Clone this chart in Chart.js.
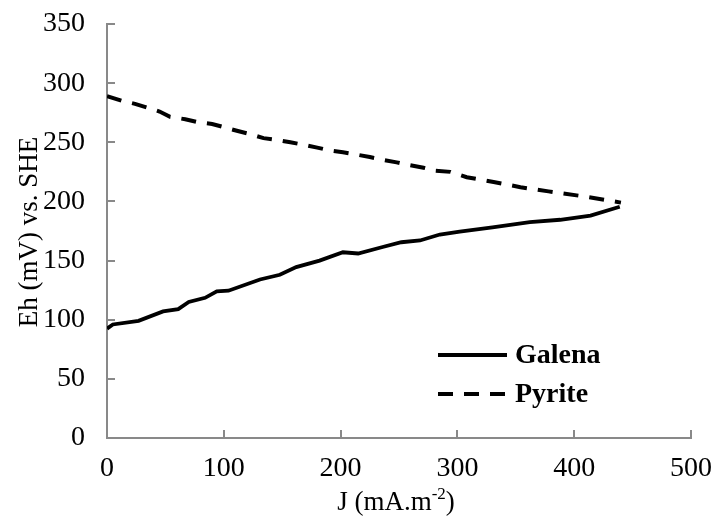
<!DOCTYPE html>
<html>
<head>
<meta charset="utf-8">
<script src="https://cdn.jsdelivr.net/npm/chart.js@4.4.1/dist/chart.umd.min.js"></script>
<style>
  html, body { margin: 0; padding: 0; background: #fff; }
  #wrap { width: 713px; height: 517px; }
</style>
</head>
<body>
<div id="wrap"><canvas id="chart" width="713" height="517"></canvas></div>
<script>
// values
const galenaJ  = [0, 5, 27, 48, 61, 70, 84, 94, 104, 131, 148, 162, 182, 202, 215, 236, 252, 268, 285, 302, 330, 362, 388, 414, 439];
const galenaEh = [92.5, 96, 99, 107, 109, 115, 118.5, 124, 124.5, 134, 138, 144.5, 150, 157, 156, 161.5, 165.5, 167, 172, 174.5, 178, 182.5, 184.5, 188, 195.5];
const pyriteJ  = [0, 13, 24, 34, 45, 54, 67, 78, 90, 101, 112, 124, 134, 145, 157, 168, 180, 191, 202, 214, 225, 237, 248, 257, 271, 281, 294, 308, 331, 354, 378, 410, 440];
const pyriteEh = [289, 285, 282.5, 279.5, 276, 271.5, 269.5, 267, 265.5, 262.5, 259.5, 256.5, 253.5, 252, 250, 248, 245.5, 243, 241.5, 239.5, 237.5, 235, 233, 231, 228.5, 226, 225, 220.5, 216.5, 212, 208.5, 204, 199];
const seriesNames = ["Galena", "Pyrite"];
const xTicks = [0, 100, 200, 300, 400, 500];
const yTicks = [0, 50, 100, 150, 200, 250, 300, 350];

const axisColor = "#898989";
const serif = "'Liberation Serif', 'Times New Roman', serif";

function toPoints(xs, ys) {
  return xs.map((x, i) => ({ x: x, y: ys[i] }));
}

// inward tick marks like the Excel original
const innerTicks = {
  id: "innerTicks",
  afterDatasetsDraw(chart) {
    const c = chart.ctx;
    const xs = chart.scales.x, ys = chart.scales.y;
    c.save();
    c.strokeStyle = axisColor;
    c.lineWidth = 2;
    xTicks.forEach(v => {
      const px = Math.round(xs.getPixelForValue(v));
      c.beginPath();
      c.moveTo(px, ys.bottom);
      c.lineTo(px, ys.bottom - 8);
      c.stroke();
    });
    yTicks.forEach(v => {
      const py = Math.round(ys.getPixelForValue(v));
      c.beginPath();
      c.moveTo(xs.left, py);
      c.lineTo(xs.left + 8, py);
      c.stroke();
    });
    c.restore();
  }
};

// axis titles and legend drawn by hand
const extras = {
  id: "extras",
  afterDraw(chart) {
    const c = chart.ctx;
    c.save();
    c.fillStyle = "#000";

    // y title
    c.font = "27px " + serif;
    c.textAlign = "center";
    c.textBaseline = "middle";
    c.translate(30, 232);
    c.rotate(-Math.PI / 2);
    c.fillText("Eh (mV) vs. SHE", 0, 0);
    c.setTransform(1, 0, 0, 1, 0, 0);

    // x title with superscript
    const main = "J (mA.m", sup = "-2", tail = ")";
    c.font = "27px " + serif;
    const w1 = c.measureText(main).width;
    const w3 = c.measureText(tail).width;
    c.font = "17px " + serif;
    const w2 = c.measureText(sup).width;
    let x0 = 396 - (w1 + w2 + w3) / 2;
    const base = 510;
    c.textAlign = "left";
    c.textBaseline = "alphabetic";
    c.font = "27px " + serif;
    c.fillText(main, x0, base);
    c.font = "17px " + serif;
    c.fillText(sup, x0 + w1, base - 11);
    c.font = "27px " + serif;
    c.fillText(tail, x0 + w1 + w2, base);

    // legend
    const rows = [355, 394];
    chart.data.datasets.forEach((ds, i) => {
      const y = rows[i];
      c.beginPath();
      c.setLineDash(ds.borderDash || []);
      c.strokeStyle = ds.borderColor;
      c.lineWidth = ds.borderWidth;
      c.moveTo(438, y);
      c.lineTo(507, y);
      c.stroke();
      c.setLineDash([]);
      c.font = "bold 28px " + serif;
      c.textBaseline = "middle";
      c.fillText(ds.label, 515, y + 1);
    });
    c.restore();
  }
};

new Chart(document.getElementById("chart"), {
  type: "scatter",
  data: {
    datasets: [
      {
        label: seriesNames[0],
        data: toPoints(galenaJ, galenaEh),
        showLine: true,
        borderColor: "#000",
        borderWidth: 3.8,
        pointRadius: 0,
        tension: 0
      },
      {
        label: seriesNames[1],
        data: toPoints(pyriteJ, pyriteEh),
        showLine: true,
        borderColor: "#000",
        borderWidth: 4,
        borderDash: [15, 11],
        pointRadius: 0,
        tension: 0
      }
    ]
  },
  options: {
    responsive: false,
    animation: false,
    devicePixelRatio: 1,
    layout: { padding: { top: 24, right: 22, left: 0, bottom: 0 } },
    plugins: {
      legend: { display: false },
      tooltip: { enabled: false }
    },
    scales: {
      x: {
        type: "linear",
        min: 0,
        max: 500,
        afterBuildTicks: s => { s.ticks = xTicks.map(v => ({ value: v })); },
        afterFit: s => { s.height = 79; s.paddingLeft = 0; s.paddingRight = 0; },
        grid: { display: false, drawTicks: false },
        border: { display: true, color: axisColor, width: 2 },
        ticks: { padding: 14, color: "#000", font: { family: serif, size: 28 }, maxRotation: 0 }
      },
      y: {
        type: "linear",
        min: 0,
        max: 350,
        afterBuildTicks: s => { s.ticks = yTicks.map(v => ({ value: v })); },
        afterFit: s => { s.width = 107; s.paddingTop = 0; s.paddingBottom = 0; },
        grid: { display: false, drawTicks: false },
        border: { display: true, color: axisColor, width: 2 },
        ticks: { padding: 22, color: "#000", font: { family: serif, size: 28 } }
      }
    }
  },
  plugins: [innerTicks, extras]
});
</script>
</body>
</html>
